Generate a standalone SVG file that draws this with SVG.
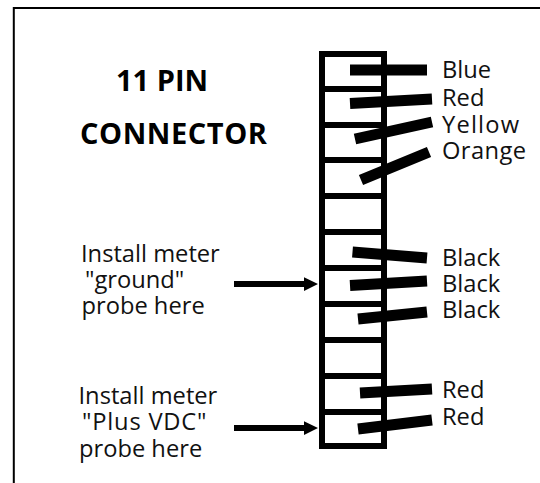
<svg xmlns="http://www.w3.org/2000/svg" width="540" height="483" viewBox="0 0 540 483">
<style>
text{font-family:"Open Sans","Noto Sans",sans-serif;font-size:23.700px;fill:#111}
.t{font-weight:700;font-size:29px;fill:#000}
.w{stroke:#000;stroke-width:11;fill:none}
.b{stroke:#000;stroke-width:6;fill:none}
.f{stroke:#000;stroke-width:2;fill:none}
</style>
<rect width="540" height="483" fill="#fff"/>
<path id="frame" class="f" d="M13.800 483V8H540"/>
<g id="connector">
<rect class="b" x="322" y="54" width="62" height="392"/>
<path class="b" d="M322 89H384M322 125H384M322 160H384M322 196H384M322 232H384M322 268H384M322 304H384M322 340H384M322 376H384M322 412H384"/>
</g>
<g id="connectors">
<path class="w" d="M350 70H427M350 103.500L432 99M355 139L432 122M361 180L429 152M352.500 252L427 258M350 285.500L427 281M358 319L427 312M360 393L432 389M358 429L432 420"/>
<path class="b" d="M234 284H306M234 428H306"/>
<path d="M304 277.300L318 284L304 291ZM304 421.300L318 428L304 435Z" fill="#000"/>
</g>
<g id="title"><text class="t" x="116" y="91">11 PIN</text><text class="t" x="80" y="143.500" textLength="187">CONNECTOR</text></g>
<g id="wire-labels">
<text x="442" y="78">Blue</text><text x="442" y="105.500">Red</text><text x="442" y="132.500" textLength="77">Yellow</text><text x="442" y="159" textLength="84">Orange</text>
<text x="442" y="265.500">Black</text><text x="442" y="291.500">Black</text><text x="442" y="318">Black</text>
<text x="442" y="398">Red</text><text x="442" y="425">Red</text>
</g>
<g id="note-ground"><text x="81" y="261.500">Install meter</text><text x="85" y="288">"ground"</text><text x="81.500" y="314">probe here</text></g>
<g id="note-plus"><text x="78.500" y="404">Install meter</text><text x="82" y="430" textLength="124.500">"Plus VDC"</text><text x="79" y="456.500">probe here</text></g>
</svg>
